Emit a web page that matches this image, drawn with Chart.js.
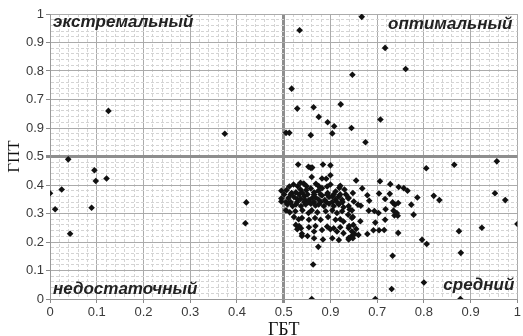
<!DOCTYPE html>
<html>
<head>
<meta charset="utf-8">
<script src="https://cdn.jsdelivr.net/npm/chart.js@4"></script>
<style>
  html, body { margin: 0; padding: 0; background: #fff; }
  #wrap { width: 523px; height: 336px; }
</style>
</head>
<body>
<div id="wrap"><canvas id="grafico" width="523" height="336"></canvas></div>
<script>
// tick labels as printed on the original (0.6 is printed as "0.9")
const xTickLabels = ['0', '0.1', '0.2', '0.3', '0.4', '0.5', '0.9', '0.7', '0.8', '0.9', '1'];
const yTickLabels = ['0', '0.1', '0.2', '0.3', '0.4', '0.5', '0.9', '0.7', '0.8', '0.9', '1'];

const quadrantNames = ['экстремальный', 'оптимальный', 'недостаточный', 'средний'];

// ГБТ (x) and ГПТ (y) of every respondent
const gbt = [
  // upper left
  0.125, 0.374,
  // upper right
  0.667, 0.534, 0.717, 0.761, 0.647, 0.517, 0.529, 0.564, 0.622, 0.575, 0.594, 0.608, 0.707, 0.645,
  0.505, 0.512, 0.558, 0.604, 0.675,
  // lower left
  0.039, 0.095, 0.098, 0.121, 0.0, 0.025, 0.011, 0.089, 0.043, 0.42, 0.418,
  // bottom strip
  0.56, 0.696, 0.731, 0.8, 0.878,
  // right, sparse
  0.805, 0.865, 0.956, 0.952, 0.974, 1.0, 0.924, 0.875, 0.879, 0.821, 0.833, 0.796, 0.806, 0.733,
  0.778, 0.773, 0.786, 0.563, 0.574,
  // cluster, right part
  0.655, 0.706, 0.728, 0.668, 0.746, 0.757, 0.765, 0.648, 0.679, 0.704, 0.727, 0.639, 0.650, 0.659,
  0.683, 0.717, 0.733, 0.738, 0.745, 0.641, 0.665, 0.682, 0.694, 0.703, 0.718, 0.735, 0.742, 0.737,
  0.744, 0.648, 0.696, 0.717, 0.664, 0.649, 0.639, 0.655, 0.692, 0.704, 0.715, 0.679, 0.745, 0.645,
  0.639,
  // cluster, core
  0.531, 0.553, 0.558, 0.561, 0.584, 0.600, 0.600, 0.582, 0.591, 0.560, 0.521, 0.536, 0.543, 0.549,
  0.569, 0.600, 0.582, 0.619, 0.506, 0.495, 0.517, 0.526, 0.536, 0.540, 0.548, 0.558, 0.565, 0.574,
  0.594, 0.611, 0.630, 0.495, 0.495, 0.510, 0.522, 0.529, 0.536,
  0.544, 0.546, 0.554, 0.561, 0.568, 0.575, 0.582, 0.588, 0.597, 0.604, 0.611, 0.618, 0.625, 0.638,
  0.512, 0.530, 0.575, 0.593, 0.621,
  0.501, 0.515, 0.533, 0.551, 0.565, 0.579, 0.593, 0.607, 0.621, 0.633,
  0.505, 0.515, 0.529, 0.544, 0.554, 0.565, 0.579, 0.591, 0.604, 0.614, 0.626,
  0.508, 0.519, 0.526, 0.537, 0.547, 0.558, 0.568, 0.575, 0.586, 0.597, 0.607, 0.618, 0.628, 0.639,
  0.505, 0.513, 0.525, 0.540, 0.553, 0.560, 0.572, 0.590, 0.604, 0.614, 0.625, 0.638, 0.646,
  0.522, 0.532, 0.539, 0.554, 0.567, 0.579, 0.595, 0.611, 0.621, 0.628, 0.646,
  0.526, 0.533, 0.537, 0.554, 0.568, 0.593, 0.607, 0.621, 0.640,
  0.529, 0.539, 0.565, 0.582, 0.600, 0.614, 0.628, 0.646, 0.652,
  0.539, 0.551, 0.584, 0.604, 0.618, 0.639, 0.565, 0.648, 0.660
];
const gpt = [
  0.660, 0.580,
  0.990, 0.943, 0.881, 0.807, 0.787, 0.738, 0.668, 0.673, 0.683, 0.639, 0.620, 0.606, 0.630, 0.600,
  0.583, 0.583, 0.575, 0.581, 0.550,
  0.490, 0.452, 0.414, 0.423, 0.371, 0.384, 0.315, 0.320, 0.229, 0.339, 0.266,
  0.0, 0.0, 0.035, 0.058, 0.0,
  0.459, 0.471, 0.483, 0.371, 0.347, 0.263, 0.250, 0.238, 0.162, 0.362, 0.347, 0.208, 0.193, 0.152,
  0.296, 0.331, 0.356, 0.121, 0.183,
  0.416, 0.413, 0.403, 0.388, 0.393, 0.389, 0.380, 0.372, 0.364, 0.370, 0.369, 0.354, 0.342, 0.331,
  0.345, 0.351, 0.339, 0.331, 0.337, 0.314, 0.327, 0.310, 0.309, 0.302, 0.315, 0.310, 0.302, 0.293,
  0.292, 0.288, 0.268, 0.278, 0.273, 0.260, 0.249, 0.246, 0.241, 0.241, 0.242, 0.228, 0.232, 0.220,
  0.214,
  0.472, 0.464, 0.460, 0.461, 0.472, 0.469, 0.434, 0.423, 0.422, 0.428, 0.402, 0.408, 0.405, 0.396,
  0.404, 0.402, 0.389, 0.390, 0.382, 0.380, 0.372, 0.374, 0.384, 0.372, 0.382, 0.388, 0.374, 0.380,
  0.372, 0.377, 0.384, 0.353, 0.342, 0.354, 0.358, 0.351, 0.351,
  0.360, 0.347, 0.347, 0.354, 0.356, 0.348, 0.363, 0.347, 0.358, 0.360, 0.350, 0.360, 0.348, 0.354,
  0.395, 0.396, 0.396, 0.395, 0.397,
  0.367, 0.367, 0.367, 0.367, 0.367, 0.367, 0.367, 0.367, 0.367, 0.367,
  0.340, 0.340, 0.340, 0.340, 0.340, 0.340, 0.340, 0.340, 0.340, 0.340, 0.340,
  0.332, 0.326, 0.332, 0.326, 0.332, 0.334, 0.328, 0.332, 0.326, 0.334, 0.326, 0.332, 0.322, 0.326,
  0.311, 0.304, 0.308, 0.311, 0.302, 0.311, 0.304, 0.308, 0.311, 0.302, 0.308, 0.296, 0.311,
  0.288, 0.280, 0.284, 0.278, 0.284, 0.278, 0.288, 0.278, 0.280, 0.272, 0.284,
  0.260, 0.256, 0.248, 0.252, 0.256, 0.254, 0.248, 0.252, 0.256,
  0.245, 0.229, 0.237, 0.242, 0.245, 0.237, 0.231, 0.237, 0.228,
  0.221, 0.221, 0.209, 0.213, 0.207, 0.209, 0.213, 0.213, 0.225
];

const points = gbt.map((x, i) => ({ x: x, y: gpt[i] }));

// сетка: major every 0.1, minor every 0.02, thick at 0.5
const gridColor = c => {
  if (c.index === 25) return '#8e8e8e';
  return c.index % 5 === 0 ? '#ababab' : '#d4d4d4';
};
const gridWidth = c => (c.index === 25 ? 3 : 1);
const gridDash = c => (c.tick && c.index % 5 !== 0 ? [3, 2] : []);
const tickColor = c => (c.index % 5 === 0 ? '#8a8a8a' : 'rgba(0,0,0,0)');

const quadrantText = {
  id: 'quadrantText',
  beforeDatasetsDraw(chart) {
    const { ctx, chartArea: a } = chart;
    ctx.save();
    ctx.font = 'bold italic 17px "Liberation Sans", Arial, sans-serif';
    ctx.fillStyle = '#222';
    ctx.textBaseline = 'alphabetic';
    ctx.textAlign = 'left';
    ctx.fillText(quadrantNames[0], a.left + 3, a.top + 12.5);
    ctx.fillText(quadrantNames[2], a.left + 3, a.bottom - 5);
    ctx.textAlign = 'right';
    ctx.fillText(quadrantNames[1], a.right - 5, a.top + 15);
    ctx.fillText(quadrantNames[3], a.right - 3, a.bottom - 9);
    ctx.restore();
  }
};

const ctx = document.getElementById('grafico').getContext('2d');
const chart = new Chart(ctx, {
  type: 'scatter',
  data: {
    datasets: [{
      label: 'ГПТ / ГБТ',
      data: points,
      pointStyle: 'rectRot',
      pointRadius: 3.3,
      pointHoverRadius: 3.3,
      backgroundColor: '#111',
      borderColor: '#111',
      borderWidth: 0
    }]
  },
  options: {
    responsive: false,
    animation: false,
    devicePixelRatio: 1,
    layout: { padding: { top: 14, right: 3, left: 0, bottom: 0 } },
    plugins: {
      legend: { display: false },
      tooltip: { enabled: false }
    },
    scales: {
      x: {
        type: 'linear',
        min: 0,
        max: 1,
        afterFit: s => { s.height = 37; },
        ticks: {
          stepSize: 0.02,
          autoSkip: false,
          maxRotation: 0,
          padding: 2,
          color: '#3a3a3a',
          font: { family: '"Liberation Sans", Arial, sans-serif', size: 13 },
          callback: (v, i) => (i % 5 === 0 ? xTickLabels[i / 5] : '')
        },
        grid: { color: gridColor, lineWidth: gridWidth, tickLength: 4, tickColor: tickColor },
        border: { color: '#9a9a9a', dash: gridDash },
        title: {
          display: true,
          text: 'ГБТ',
          color: '#111',
          font: { family: '"Liberation Serif", "Times New Roman", serif', size: 18, lineHeight: 1 },
          padding: { top: 0, bottom: -3 }
        }
      },
      y: {
        type: 'linear',
        min: 0,
        max: 1,
        afterFit: s => { s.width = 50; },
        ticks: {
          stepSize: 0.02,
          autoSkip: false,
          padding: 2,
          color: '#3a3a3a',
          font: { family: '"Liberation Sans", Arial, sans-serif', size: 13 },
          callback: (v, i) => (i % 5 === 0 ? yTickLabels[i / 5] : '')
        },
        grid: { color: gridColor, lineWidth: gridWidth, tickLength: 4, tickColor: tickColor },
        border: { color: '#9a9a9a', dash: gridDash },
        title: {
          display: true,
          text: 'ГПТ',
          color: '#111',
          font: { family: '"Liberation Serif", "Times New Roman", serif', size: 17, lineHeight: 1 },
          padding: { top: 6, bottom: 0 }
        }
      }
    }
  },
  plugins: [quadrantText]
});
</script>
</body>
</html>
